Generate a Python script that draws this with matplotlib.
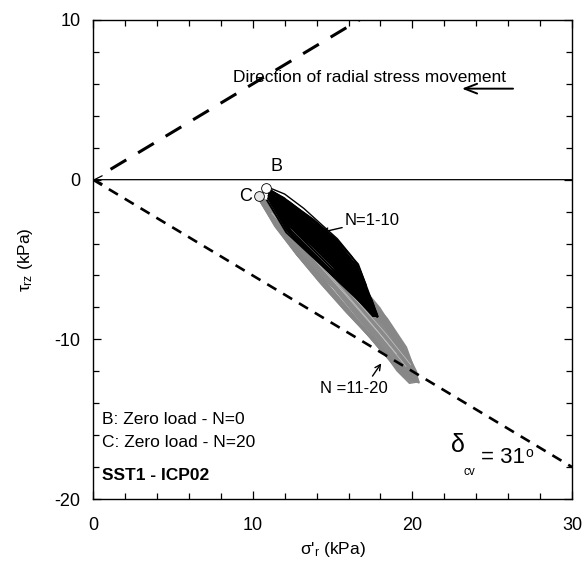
import matplotlib
matplotlib.use("Agg")
import matplotlib.pyplot as plt
from matplotlib.ticker import MultipleLocator

plt.rcParams['font.family'] = ['Liberation Sans', 'DejaVu Sans']
plt.rcParams['mathtext.fontset'] = 'custom'
plt.rcParams['mathtext.rm'] = 'Liberation Sans'
plt.rcParams['mathtext.it'] = 'Liberation Sans'
plt.rcParams['axes.unicode_minus'] = False

# critical state lines (delta_cv = 31 deg)
cv_lower_x = [0, 30]
cv_lower_y = [0, -18]
cv_upper_x = [1.1, 17.5]
cv_upper_y = [0.65, 10.5]

# zero-load points
pt_B = (10.85, -0.5)
pt_C = (10.4, -1.05)

# outline of the dense band of cycles
black_env_x = [10.9, 12.0, 12.9, 14.2, 15.2, 16.1, 16.8, 17.5, 17.9, 17.5, 16.5, 15.0, 13.8, 12.9, 11.8, 11.0]
black_env_y = [-0.5, -1.1, -1.9, -3.0, -3.9, -5.0, -6.2, -7.5, -8.6, -8.6, -7.5, -5.5, -4.3, -3.5, -2.3, -1.2]
grey_env_x = [10.4, 12.0, 14.0, 16.0, 18.0, 19.5, 20.3, 20.4, 19.8, 19.0, 17.3, 15.0, 12.9, 11.5, 10.4]
grey_env_y = [-1.0, -2.2, -3.9, -5.6, -8.0, -10.4, -12.0, -12.7, -12.8, -12.0, -9.6, -6.8, -4.8, -2.9, -1.3]

# cycles N=1-10 (black)
black_x = [
    [10.9, 12.2, 13.6, 15.0, 16.3, 17.5, 16.5, 15.1, 13.7, 12.3, 11.0],
    [11.0, 12.3, 13.7, 15.1, 16.4, 17.7, 16.7, 15.2, 13.8, 12.4, 11.0],
    [11.0, 12.2, 13.5, 14.9, 16.2, 17.3, 16.4, 15.0, 13.6, 12.2, 11.0],
    [10.9, 12.3, 13.8, 15.2, 16.5, 17.8, 16.8, 15.3, 13.9, 12.4, 11.0],
    [11.0, 12.1, 13.5, 14.8, 16.1, 17.2, 16.3, 14.9, 13.5, 12.1, 10.9],
    [11.0, 12.4, 13.8, 15.3, 16.6, 17.6, 16.6, 15.2, 13.8, 12.3, 11.0],
    [10.9, 12.2, 13.6, 15.0, 16.4, 17.4, 16.5, 15.0, 13.6, 12.2, 11.0],
    [11.0, 12.3, 13.7, 15.2, 16.5, 17.8, 16.9, 15.4, 14.0, 12.5, 11.1],
    [11.0, 12.2, 13.6, 15.0, 16.3, 17.0, 16.1, 14.8, 13.4, 12.1, 11.0],
]
black_y = [
    [-0.6, -1.4, -2.4, -3.7, -5.2, -7.9, -7.1, -5.7, -4.3, -2.9, -1.0],
    [-0.7, -1.6, -2.7, -4.0, -5.5, -8.4, -7.5, -6.0, -4.6, -3.2, -1.1],
    [-0.8, -1.8, -2.9, -4.1, -5.4, -7.6, -7.0, -5.8, -4.5, -3.2, -1.2],
    [-0.7, -1.5, -2.6, -3.9, -5.4, -8.6, -7.7, -6.2, -4.8, -3.4, -1.2],
    [-0.8, -1.9, -3.1, -4.3, -5.6, -7.4, -6.9, -5.9, -4.6, -3.3, -1.3],
    [-0.6, -1.5, -2.5, -3.8, -5.3, -8.0, -7.3, -6.0, -4.7, -3.3, -1.1],
    [-0.7, -1.7, -2.8, -4.0, -5.5, -7.8, -7.2, -6.0, -4.6, -3.2, -1.2],
    [-0.6, -1.4, -2.5, -3.8, -5.4, -8.5, -7.8, -6.4, -5.0, -3.5, -1.3],
    [-0.8, -1.9, -3.0, -4.2, -5.6, -7.0, -6.6, -5.6, -4.4, -3.1, -1.2],
]
# outermost thin loop of the first cycle
outer_x = [10.9, 12.0, 13.2, 14.3, 15.3, 16.2, 16.7, 17.1]
outer_y = [-0.45, -0.9, -1.8, -2.8, -3.7, -4.8, -5.6, -6.6]

# cycles N=11-20 (grey)
grey_x = [
    [10.5, 11.8, 13.4, 15.0, 16.6, 18.2, 19.4, 20.2, 19.3, 17.8, 16.2, 14.6, 13.0, 11.6, 10.5],
    [10.4, 11.7, 13.3, 14.9, 16.5, 18.1, 19.3, 20.0, 19.1, 17.6, 16.0, 14.4, 12.8, 11.5, 10.4],
    [10.5, 11.9, 13.5, 15.1, 16.7, 18.3, 19.5, 20.3, 19.4, 17.9, 16.3, 14.7, 13.1, 11.7, 10.5],
    [10.4, 11.8, 13.4, 15.0, 16.6, 18.1, 19.2, 19.8, 18.9, 17.5, 15.9, 14.3, 12.8, 11.5, 10.4],
    [10.5, 11.9, 13.5, 15.2, 16.8, 18.4, 19.6, 20.4, 19.5, 18.0, 16.4, 14.8, 13.2, 11.7, 10.5],
    [10.4, 11.7, 13.2, 14.8, 16.4, 18.0, 19.1, 19.7, 18.8, 17.4, 15.8, 14.2, 12.7, 11.4, 10.4],
    [10.5, 11.8, 13.4, 15.0, 16.7, 18.3, 19.5, 20.2, 19.3, 17.8, 16.2, 14.5, 12.9, 11.6, 10.5],
    [10.4, 11.8, 13.3, 14.9, 16.5, 18.1, 19.4, 20.1, 19.2, 17.7, 16.1, 14.5, 12.9, 11.5, 10.4],
]
grey_y = [
    [-1.1, -2.3, -3.8, -5.4, -7.0, -8.8, -10.6, -12.4, -12.0, -10.3, -8.5, -6.6, -4.8, -3.0, -1.3],
    [-1.0, -2.2, -3.7, -5.3, -6.9, -8.7, -10.5, -12.1, -11.8, -10.1, -8.3, -6.5, -4.7, -2.9, -1.2],
    [-1.1, -2.4, -3.9, -5.5, -7.1, -8.9, -10.7, -12.6, -12.2, -10.5, -8.6, -6.7, -4.9, -3.1, -1.3],
    [-1.0, -2.3, -3.8, -5.4, -7.1, -8.8, -10.6, -11.9, -11.6, -10.0, -8.3, -6.5, -4.7, -2.9, -1.2],
    [-1.1, -2.2, -3.7, -5.3, -6.9, -8.7, -10.5, -12.7, -12.3, -10.5, -8.6, -6.7, -4.9, -3.1, -1.3],
    [-1.0, -2.2, -3.6, -5.2, -6.8, -8.6, -10.4, -11.8, -11.5, -9.9, -8.2, -6.4, -4.6, -2.9, -1.2],
    [-1.1, -2.3, -3.8, -5.4, -7.0, -8.9, -10.7, -12.5, -12.1, -10.4, -8.5, -6.6, -4.8, -3.0, -1.3],
    [-1.0, -2.3, -3.8, -5.5, -7.1, -8.9, -10.6, -12.3, -11.9, -10.2, -8.4, -6.6, -4.8, -3.0, -1.2],
]
grey_light_x = [[11.2, 13.5, 15.8, 17.9, 19.6], [11.5, 13.8, 16.1, 18.3, 19.9], [12.0, 14.6, 17.0, 19.0]]
grey_light_y = [[-2.1, -4.6, -7.2, -9.6, -11.7], [-2.2, -4.6, -7.1, -9.6, -11.6], [-2.9, -5.7, -8.5, -10.9]]

fig = plt.figure(figsize=(5.85, 5.71), dpi=100)
ax = fig.add_axes([0.159, 0.126, 0.819, 0.839])

ax.fill(grey_env_x, grey_env_y, color='#8a8a8a', lw=0, zorder=2.0)
for xs, ys in zip(grey_x, grey_y):
    ax.plot(xs, ys, color='#878787', lw=1.6, solid_joinstyle='round', zorder=2.1)
for xs, ys in zip(grey_light_x, grey_light_y):
    ax.plot(xs, ys, color='#c4c4c4', lw=0.5, zorder=2.2)

ax.fill(black_env_x, black_env_y, color='black', lw=0, zorder=2.3)
for xs, ys in zip(black_x, black_y):
    ax.plot(xs, ys, color='black', lw=1.4, solid_joinstyle='round', zorder=2.4)
ax.plot(outer_x, outer_y, color='black', lw=1.0, zorder=2.4)

ax.plot(cv_lower_x, cv_lower_y, color='black', lw=1.9, dashes=(4, 3), zorder=3)
ax.plot(cv_upper_x, cv_upper_y, color='black', lw=2.2, dashes=(6, 4.5), zorder=3)

# zero line with arrow at origin
ax.annotate('', xy=(0, 0), xytext=(30, 0),
            arrowprops=dict(arrowstyle='->', lw=0.9, color='black',
                            mutation_scale=14, shrinkA=0, shrinkB=0))

ax.plot(*pt_B, 'o', ms=7, mfc='white', mec='black', mew=0.6, zorder=5)
ax.plot(*pt_C, 'o', ms=7, mfc='#e6e6e6', mec='black', mew=0.6, zorder=5)
ax.text(11.5, 0.85, 'B', fontsize=13, ha='center', va='center')
ax.text(9.55, -1.05, 'C', fontsize=13, ha='center', va='center')

ax.text(17.3, 6.4, 'Direction of radial stress movement', fontsize=12.5,
        ha='center', va='center')
ax.annotate('', xy=(23.1, 5.7), xytext=(26.3, 5.7),
            arrowprops=dict(arrowstyle='->,head_length=0.9,head_width=0.35',
                            lw=1.4, color='black', shrinkA=0, shrinkB=0))

ax.text(15.75, -2.55, 'N=1-10', fontsize=12, ha='left', va='center')
ax.annotate('', xy=(14.3, -3.3), xytext=(15.6, -3.0),
            arrowprops=dict(arrowstyle='->', lw=1, color='black',
                            shrinkA=0, shrinkB=0))
ax.text(14.2, -13.1, 'N =11-20', fontsize=12, ha='left', va='center')
ax.annotate('', xy=(18.05, -11.5), xytext=(17.5, -12.3),
            arrowprops=dict(arrowstyle='->', lw=1, color='black',
                            shrinkA=0, shrinkB=0))

ax.text(0.55, -15.0, 'B: Zero load - N=0', fontsize=12.5, va='center')
ax.text(0.55, -16.45, 'C: Zero load - N=20', fontsize=12.5, va='center')
ax.text(0.55, -18.55, 'SST1 - ICP02', fontsize=12.5, va='center',
        fontweight='bold')

ax.text(22.4, -16.6, 'δ', fontsize=18, ha='left', va='center')
ax.text(23.2, -18.3, 'cv', fontsize=8.5, ha='left', va='center')
ax.text(24.3, -17.4, '= 31', fontsize=16, ha='left', va='center')
ax.text(27.1, -17.1, 'o', fontsize=10, ha='left', va='center')

ax.set_xlim(0, 30)
ax.set_ylim(-20, 10)
ax.set_xticks([0, 10, 20, 30])
ax.set_yticks([-20, -10, 0, 10])
ax.xaxis.set_minor_locator(MultipleLocator(2))
ax.yaxis.set_minor_locator(MultipleLocator(2))
ax.tick_params(which='both', direction='in', top=True, right=True, width=0.9)
ax.tick_params(which='major', length=6)
ax.tick_params(which='minor', length=4)
ax.tick_params(axis='x', which='major', pad=13, labelsize=13)
ax.tick_params(axis='y', which='major', pad=9, labelsize=13)
for s in ax.spines.values():
    s.set_linewidth(1.0)

ax.set_xlabel("σ'$_{\\rm r}$ (kPa)", fontsize=12.5, labelpad=4)
ax.set_ylabel('$\\tau_{\\rm rz}$ (kPa)', fontsize=12.5, labelpad=14)

fig.savefig('out.png', dpi=100)
